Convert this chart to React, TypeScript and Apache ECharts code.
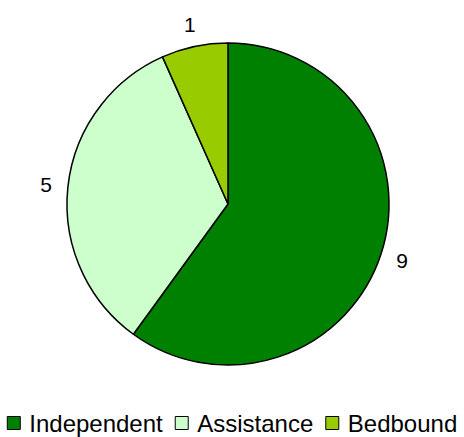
import React, { useEffect, useRef } from "react";
import * as echarts from "echarts";

const categories = ["Independent", "Assistance", "Bedbound"];
const values = [9, 5, 1];
const colors = ["#008000", "#ccffcc", "#99cc00"];

const FONT = "'Liberation Sans', Arial, sans-serif";

export default function App() {
  const ref = useRef<HTMLDivElement>(null);
  useEffect(() => {
    document.body.style.margin = "0";
    const chart = echarts.init(ref.current!, null, { renderer: "svg" });
    const data = categories.map((name, i) => ({
      name,
      value: values[i],
      itemStyle: { color: colors[i] },
    }));
    chart.setOption({
      animation: false,
      backgroundColor: "#ffffff",
      textStyle: { fontFamily: FONT },
      legend: {
        data: categories,
        left: "center",
        top: 406,
        padding: [5, 0, 5, 12],
        icon: "rect",
        itemWidth: 13,
        itemHeight: 13,
        itemGap: 12,
        itemStyle: { borderColor: "#000", borderWidth: 1 },
        textStyle: {
          fontFamily: FONT,
          fontSize: 24,
          color: "#000",
          padding: [0, 0, 0, 4],
        },
        selectedMode: false,
      },
      series: [
        {
          type: "pie",
          center: [228, 204],
          radius: 161,
          startAngle: 90,
          clockwise: true,
          label: { show: false },
          labelLine: { show: false },
          itemStyle: { borderColor: "#000", borderWidth: 1.5 },
          emphasis: { disabled: true },
          data,
        },
        {
          type: "pie",
          center: [228, 204],
          radius: [175, 185],
          startAngle: 90,
          clockwise: true,
          silent: true,
          legendHoverLink: false,
          itemStyle: { color: "transparent", borderWidth: 0 },
          label: {
            show: true,
            position: "inside",
            formatter: "{c}",
            color: "#000",
            fontSize: 21,
            fontFamily: FONT,
          },
          labelLine: { show: false },
          emphasis: { disabled: true },
          data: categories.map((name, i) => ({ name, value: values[i] })),
        },
      ],
    });
    return () => chart.dispose();
  }, []);
  return <div ref={ref} style={{ width: 464, height: 437 }} />;
}
